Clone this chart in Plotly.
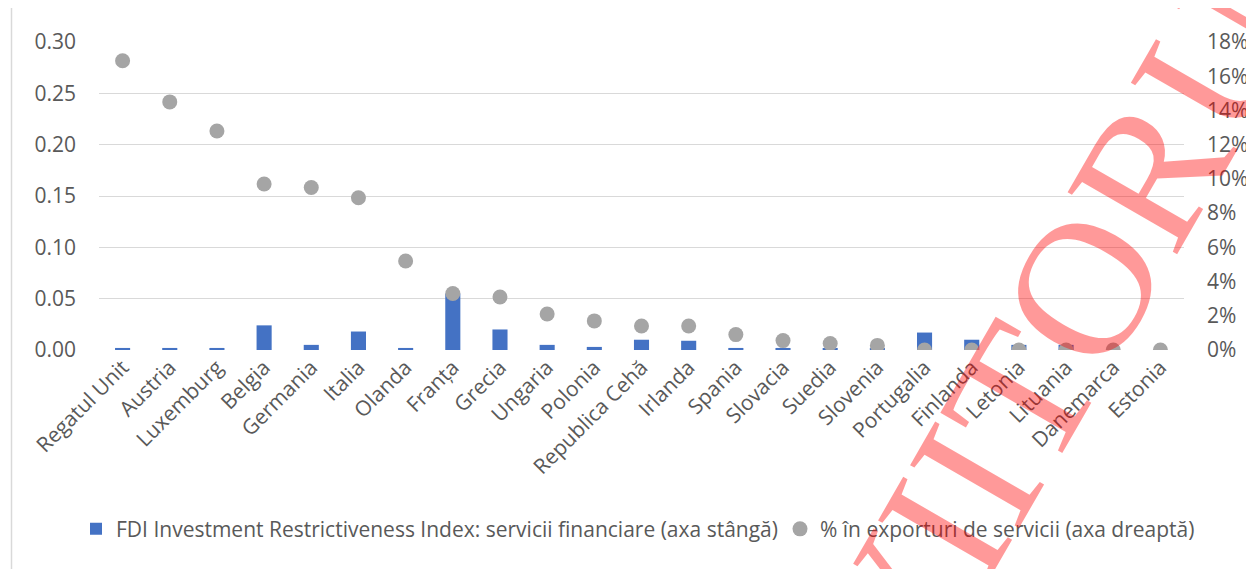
import plotly.graph_objects as go

countries = ["Regatul Unit", "Austria", "Luxemburg", "Belgia", "Germania", "Italia", "Olanda",
             "Franța", "Grecia", "Ungaria", "Polonia", "Republica Cehă", "Irlanda", "Spania",
             "Slovacia", "Suedia", "Slovenia", "Portugalia", "Finlanda", "Letonia", "Lituania",
             "Danemarca", "Estonia"]
fdi_index = [0.002, 0.002, 0.002, 0.024, 0.005, 0.018, 0.002,
             0.055, 0.020, 0.005, 0.003, 0.010, 0.009, 0.002,
             0.002, 0.002, 0.001, 0.017, 0.010, 0.005, 0.005,
             0.0, 0.0]
export_share = [0.169, 0.145, 0.128, 0.097, 0.095, 0.089, 0.052,
                0.033, 0.031, 0.021, 0.017, 0.014, 0.014, 0.009,
                0.0055, 0.0038, 0.0027, 0.0, 0.0, 0.0, 0.0,
                0.0, 0.0]
left_ticks = [0.0, 0.05, 0.10, 0.15, 0.20, 0.25, 0.30]
right_ticks = [0.0, 0.02, 0.04, 0.06, 0.08, 0.10, 0.12, 0.14, 0.16, 0.18]

FONT = "Open Sans"
GRAY = "#595959"
FS = 21

# page body margin offset (8px) compensation
OFF = 8
SW, SH = 1254, 569
W, H = SW - OFF, SH - OFF
# desired plot area in screen pixels
PL, PR, PT, PB = 99, 1184, 42, 350.5
ML, MT = PL - OFF, PT - OFF
MR = W - (PR - OFF)
MB = H - (PB - OFF)
pw = W - ML - MR
ph = H - MT - MB


def px_x(px):
    return (px - PL) / pw


def px_y(py):
    return (PB - py) / ph


def cx(px):
    return (px - OFF) / W


fig = go.Figure()
fig.add_trace(go.Bar(
    x=countries, y=fdi_index,
    name="FDI Investment Restrictiveness Index: servicii financiare (axa stângă)",
    marker=dict(color="#4472C4", line=dict(width=0)),
    yaxis="y", legend="legend",
))
fig.add_trace(go.Scatter(
    x=countries, y=export_share,
    name="% în exporturi de servicii (axa dreaptă)",
    mode="markers",
    marker=dict(color="#A5A5A5", size=15),
    yaxis="y2", legend="legend2",
))

leg_common = dict(orientation="h", xref="container", yanchor="middle", y=px_y(530),
                  font=dict(family=FONT, size=FS, color=GRAY), itemwidth=30,
                  bgcolor="rgba(0,0,0,0)")

fig.update_layout(
    width=W, height=H,
    margin=dict(l=ML, r=MR, t=MT, b=MB, autoexpand=False),
    paper_bgcolor="white", plot_bgcolor="white",
    bargap=0.68,
    font=dict(family=FONT, size=FS, color=GRAY),
    showlegend=True,
    legend=dict(x=cx(76), xanchor="left", **leg_common),
    legend2=dict(x=cx(780), xanchor="left", **leg_common),
    xaxis=dict(
        categoryorder="array", categoryarray=countries,
        range=[-0.5, len(countries) - 0.5],
        tickangle=-45, tickfont=dict(family=FONT, size=FS, color=GRAY),
        showgrid=False, showline=False, ticks="", zeroline=False,
        automargin=False,
    ),
    yaxis=dict(
        range=[0, 0.30], tickvals=left_ticks, tickformat=".2f",
        showgrid=True, gridcolor="#D9D9D9", gridwidth=1.3,
        zeroline=False, showline=False, ticks="",
        tickfont=dict(family=FONT, size=FS, color=GRAY),
        ticklabelstandoff=22, automargin=False,
    ),
    yaxis2=dict(
        range=[0, 0.18], tickvals=right_ticks, tickformat=".0%",
        overlaying="y", side="right", showgrid=False,
        zeroline=False, showline=False, ticks="",
        tickfont=dict(family=FONT, size=FS, color=GRAY),
        ticklabelstandoff=22, automargin=False,
    ),
    shapes=[dict(type="line", xref="paper", yref="paper",
                 x0=px_x(11.5), x1=px_x(11.5), y0=px_y(0), y1=px_y(SH + 10),
                 line=dict(color="#D9D9D9", width=1.5))],
    annotations=[dict(
        text="VIITORUL", xref="paper", yref="paper",
        x=px_x(1084), y=px_y(287), xanchor="center", yanchor="middle",
        showarrow=False, textangle=-60,
        font=dict(family="Liberation Serif", size=192, color="rgba(255,0,0,0.4)"),
    )],
)

fig.write_html("out.html")
